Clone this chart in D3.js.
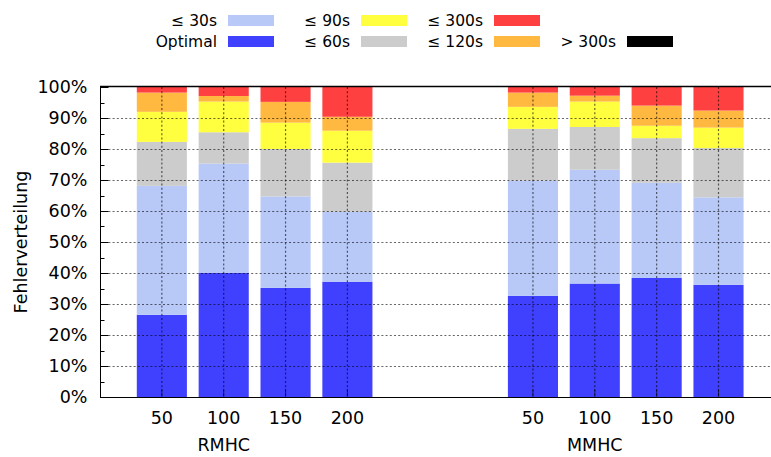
<!DOCTYPE html>
<html>
<head>
<meta charset="utf-8">
<script src="https://cdn.jsdelivr.net/npm/d3@7"></script>
<style>
  body { margin: 0; background: #fff; }
  text { font-family: "DejaVu Sans", sans-serif; fill: #000; }
</style>
</head>
<body>
<div id="chart"></div>
<script>
// data (percent per class, stacked bottom to top)
var groups = ["RMHC", "MMHC"];
var sizes = ["50", "100", "150", "200"];
var classes = ["Optimal", "≤ 30s", "≤ 60s", "≤ 90s", "≤ 120s", "≤ 300s", "> 300s"];
var colors = ["#4040ff", "#b8c9f8", "#cccccc", "#ffff40", "#ffb840", "#ff4040", "#000000"];
var rmhc = [
  [26.5, 41.6, 14.2, 9.7, 6.2, 1.8, 0],
  [40.1, 35.2, 10.1, 9.9, 1.8, 2.9, 0],
  [35.2, 29.5, 15.3, 8.5, 6.7, 4.8, 0],
  [37.2, 22.5, 15.9, 10.3, 4.5, 9.6, 0]
];
var mmhc = [
  [32.6, 37.2, 16.7, 7.1, 4.6, 1.8, 0],
  [36.6, 36.7, 13.8, 8.2, 1.9, 2.8, 0],
  [38.4, 30.7, 14.4, 4.0, 6.5, 6.0, 0],
  [36.2, 28.2, 15.9, 6.6, 5.5, 7.6, 0]
];
var yTicks = [0, 10, 20, 30, 40, 50, 60, 70, 80, 90, 100];

var w = 771, h = 457;
var pLeft = 100, pTop = 87, pBottom = 397;
var gap = 2; // empty slots between the two groups

var svg = d3.select("#chart").append("svg")
    .attr("width", w)
    .attr("height", h);
svg.append("rect").attr("width", w).attr("height", h).attr("fill", "#fff");

// build one row per bar
var rows = [];
[rmhc, mmhc].forEach(function(g, gi) {
  g.forEach(function(vals, si) {
    var row = { group: groups[gi], size: sizes[si], pos: gi * (sizes.length + gap) + si };
    classes.forEach(function(c, ci) { row[c] = vals[ci]; });
    rows.push(row);
  });
});

var x = d3.scaleLinear().domain([-1, 10]).range([pLeft, pLeft + 61.85 * 11]);
var y = d3.scaleLinear().domain([0, 100]).range([pBottom, pTop]);
var barW = (x(1) - x(0)) * 0.81;

var stack = d3.stack().keys(classes)(rows);

var layers = svg.selectAll("g.layer")
  .data(stack)
  .enter().append("g")
    .attr("class", "layer")
    .attr("fill", function(d, i) { return colors[i]; });

layers.selectAll("rect")
  .data(function(d) { return d; })
  .enter().append("rect")
    .attr("x", function(d) { return x(d.data.pos) - barW / 2; })
    .attr("width", barW)
    .attr("y", function(d) { return y(d[1]); })
    .attr("height", function(d) { return y(d[0]) - y(d[1]); });

// grid in front, half transparent
var grid = svg.append("g")
    .attr("stroke", "#000")
    .attr("stroke-opacity", 0.6)
    .attr("stroke-width", 1.2)
    .attr("stroke-dasharray", "2,2.2");
grid.selectAll("line.h")
  .data(yTicks.slice(1, -1))
  .enter().append("line")
    .attr("x1", pLeft).attr("x2", w)
    .attr("y1", function(d) { return Math.round(y(d)) + 0.5; })
    .attr("y2", function(d) { return Math.round(y(d)) + 0.5; });
grid.selectAll("line.v")
  .data(rows)
  .enter().append("line")
    .attr("x1", function(d) { return x(d.pos); })
    .attr("x2", function(d) { return x(d.pos); })
    .attr("y1", pTop).attr("y2", pBottom);

// y axis with inward ticks
var ya = svg.append("g").attr("transform", "translate(" + (pLeft + 0.5) + ",0)");
ya.append("line").attr("y1", pTop).attr("y2", pBottom + 0.5).attr("stroke", "#000");
ya.selectAll("line.t")
  .data(d3.range(0, 101, 5))
  .enter().append("line")
    .attr("x1", 0)
    .attr("x2", function(d) { return d % 10 === 0 ? 8 : 4; })
    .attr("y1", function(d) { return Math.round(y(d)) + 0.5; })
    .attr("y2", function(d) { return Math.round(y(d)) + 0.5; })
    .attr("stroke", "#000");
ya.selectAll("text")
  .data(yTicks)
  .enter().append("text")
    .attr("x", -13)
    .attr("y", function(d) { return y(d); })
    .attr("dy", "0.36em")
    .attr("text-anchor", "end")
    .style("font-size", "17.5px")
    .text(function(d) { return d + "%"; });

// x axis and top border
svg.append("line").attr("x1", pLeft).attr("x2", w)
  .attr("y1", pBottom + 0.5).attr("y2", pBottom + 0.5).attr("stroke", "#000");
svg.append("line").attr("x1", pLeft).attr("x2", w)
  .attr("y1", pTop - 0.5).attr("y2", pTop - 0.5).attr("stroke", "#000").attr("stroke-width", 1.5);
svg.selectAll("line.xt")
  .data(rows)
  .enter().append("line")
    .attr("x1", function(d) { return x(d.pos); })
    .attr("x2", function(d) { return x(d.pos); })
    .attr("y1", pBottom).attr("y2", pBottom - 8)
    .attr("stroke", "#000").attr("stroke-opacity", 0.6);
svg.selectAll("text.xl")
  .data(rows)
  .enter().append("text")
    .attr("x", function(d) { return x(d.pos); })
    .attr("y", 424)
    .attr("text-anchor", "middle")
    .style("font-size", "17.5px")
    .text(function(d) { return d.size; });
svg.selectAll("text.gl")
  .data(groups)
  .enter().append("text")
    .attr("x", function(d, i) { return x(i * (sizes.length + gap) + 1); })
    .attr("y", 451)
    .attr("text-anchor", "middle")
    .style("font-size", "17.5px")
    .text(function(d) { return d; });

// y label
svg.append("text")
    .attr("transform", "translate(27," + (pTop + pBottom) / 2 + ") rotate(-90)")
    .attr("text-anchor", "middle")
    .style("font-size", "17.5px")
    .text("Fehlerverteilung");

// legend, columns filled bottom row first
var legend = svg.selectAll("g.key")
  .data(classes)
  .enter().append("g")
    .attr("class", "key")
    .attr("transform", function(d, i) {
      var col = Math.floor(i / 2), row = i % 2 === 0 ? 1 : 0;
      return "translate(" + (217 + 133 * col) + "," + (20.5 + 21 * row) + ")";
    });
legend.append("text")
    .attr("dy", "0.36em")
    .attr("text-anchor", "end")
    .style("font-size", "15.5px")
    .text(function(d) { return d; });
legend.append("rect")
    .attr("x", 11).attr("y", -5.5)
    .attr("width", 46).attr("height", 11)
    .attr("fill", function(d, i) { return colors[i]; });
</script>
</body>
</html>
